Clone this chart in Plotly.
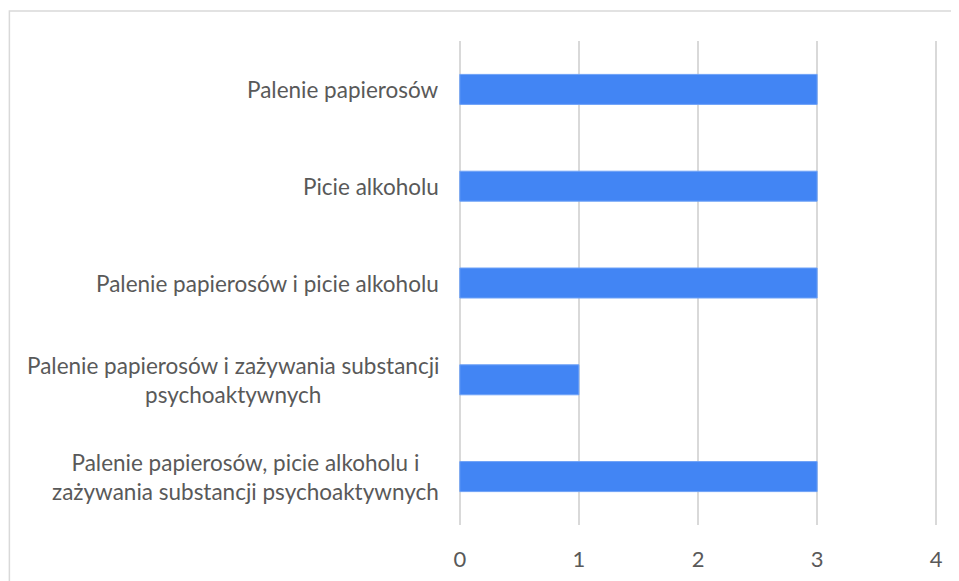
import plotly.graph_objects as go

categories = [
    "Palenie papierosów",
    "Picie alkoholu",
    "Palenie papierosów i picie alkoholu",
    "Palenie papierosów i zażywania substancji<br>psychoaktywnych",
    "Palenie papierosów, picie alkoholu i<br>zażywania substancji psychoaktywnych",
]
values = [3, 3, 3, 1, 3]
x_ticks = [0, 1, 2, 3, 4]

FONT = "Lato"
TEXT_COLOR = "#595959"
FONT_SIZE = 22.5

PAD = 0.015
# plot area on screen (page has 8px body margin)
PX_PER_UNIT = 476 / 4
plot_left = 460 - PAD * PX_PER_UNIT
plot_right = 936 + PAD * PX_PER_UNIT
plot_w = plot_right - plot_left
plot_top, plot_bottom = 41, 525
plot_h = plot_bottom - plot_top

fig = go.Figure()
fig.add_trace(go.Bar(
    x=values,
    y=categories,
    orientation="h",
    width=0.31,
    marker=dict(color="#4285F4", line=dict(color="#6ea2f7", width=1)),
    hoverinfo="x+y",
))

annotations = []
for cat in categories:
    annotations.append(dict(
        x=0, xref="x", y=cat, yref="y",
        text=cat, showarrow=False, align="center",
        xanchor="right", yanchor="middle", xshift=-19,
        font=dict(family=FONT, size=FONT_SIZE, color=TEXT_COLOR),
    ))

fig.update_layout(
    width=959, height=581,
    margin=dict(l=plot_left - 8, r=959 - (plot_right - 8), t=plot_top - 8, b=581 - (plot_bottom - 8)),
    paper_bgcolor="white", plot_bgcolor="white",
    showlegend=False,
    font=dict(family=FONT, size=FONT_SIZE, color=TEXT_COLOR),
    xaxis=dict(
        range=[-PAD, 4 + PAD], tickvals=x_ticks, ticktext=[str(t) for t in x_ticks],
        showgrid=True, gridcolor="#d9d9d9", gridwidth=1.5,
        zeroline=False, showline=False, ticks="",
        tickfont=dict(family=FONT, size=22, color=TEXT_COLOR),
        ticklabelstandoff=19,
    ),
    yaxis=dict(
        categoryorder="array", categoryarray=categories,
        autorange="reversed", showticklabels=False,
        showgrid=False, zeroline=False, showline=False,
    ),
    annotations=annotations,
    shapes=[dict(
        type="rect", xref="paper", yref="paper",
        x0=(10 - plot_left) / plot_w, x1=(1000 - plot_left) / plot_w,
        y0=(plot_bottom - 620) / plot_h, y1=(plot_bottom - 11) / plot_h,
        line=dict(color="#d9d9d9", width=1.5), fillcolor="rgba(0,0,0,0)",
        layer="below",
    )],
)

fig.write_html("out.html")
